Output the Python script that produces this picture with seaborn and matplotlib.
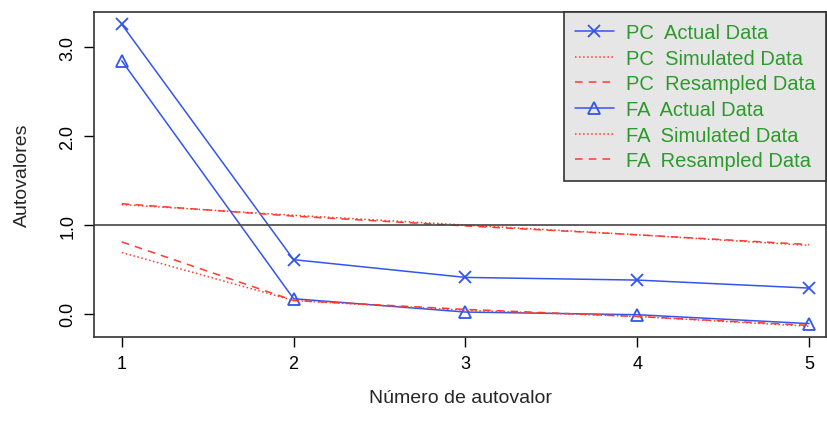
import numpy as np
import pandas as pd
import matplotlib
matplotlib.use('Agg')
import matplotlib.pyplot as plt
import seaborn as sns

# Data
factor_num = [1, 2, 3, 4, 5]
pc_actual = [3.26, 0.61, 0.41, 0.38, 0.29]
pc_simulated = [1.23, 1.11, 1.00, 0.89, 0.77]
pc_resampled = [1.24, 1.10, 0.99, 0.89, 0.78]
fa_actual = [2.85, 0.17, 0.02, -0.01, -0.11]
fa_simulated = [0.69, 0.15, 0.04, -0.03, -0.14]
fa_resampled = [0.81, 0.15, 0.05, -0.03, -0.13]

labels = ['PC  Actual Data', 'PC  Simulated Data', 'PC  Resampled Data',
          'FA  Actual Data', 'FA  Simulated Data', 'FA  Resampled Data']

sns.set_style('white')
plt.rcParams['font.family'] = ['Liberation Sans', 'DejaVu Sans']

fig = plt.figure(figsize=(8.27, 4.31), dpi=100)
ax = fig.add_axes([0.114, 0.216, 0.885, 0.754])

blue = '#3355ee'
red = '#ff3b2f'

series = [
    (pc_actual, blue, '-', 'x', 9),
    (pc_simulated, red, ':', None, 0),
    (pc_resampled, red, (0, (5, 4)), None, 0),
    (fa_actual, blue, '-', '^', 9),
    (fa_simulated, red, ':', None, 0),
    (fa_resampled, red, (0, (5, 4)), None, 0),
]

for (vals, col, ls, mk, ms), lab in zip(series, labels):
    sns.lineplot(x=factor_num, y=vals, ax=ax, color=col, linestyle=ls,
                 linewidth=1.1, marker=mk, markersize=ms,
                 markerfacecolor='none' if mk == '^' else col,
                 markeredgecolor=col, markeredgewidth=1.3, label=lab)

ax.axhline(1.0, color='#444444', linewidth=1.2)

ax.set_xlim(0.84, 5.1)
ax.set_ylim(-0.26, 3.40)
ax.set_xticks([1, 2, 3, 4, 5])
ax.set_yticks([0, 1, 2, 3])
ax.set_yticklabels(['0.0', '1.0', '2.0', '3.0'], rotation=90, va='center')
ax.tick_params(axis='both', direction='out', length=7, width=1, labelsize=13,
               colors='black', left=True, bottom=True, pad=6)
for s in ax.spines.values():
    s.set_color('#333333')
    s.set_linewidth(1.2)

ax.set_xlabel('Número de autovalor', fontsize=14, labelpad=12)
ax.set_ylabel('Autovalores', fontsize=14, labelpad=20)

leg = ax.legend(loc='upper right', fontsize=14.5, frameon=True, fancybox=False,
                borderpad=0.55, labelspacing=0.33, handlelength=1.9,
                handletextpad=0.6, borderaxespad=0.0)
leg.get_frame().set_facecolor('#e6e6e6')
leg.get_frame().set_edgecolor('#333333')
leg.get_frame().set_linewidth(1.2)
leg.get_frame().set_alpha(1)
for t in leg.get_texts():
    t.set_color('#2e9a2e')

fig.savefig('out.png', dpi=100)
